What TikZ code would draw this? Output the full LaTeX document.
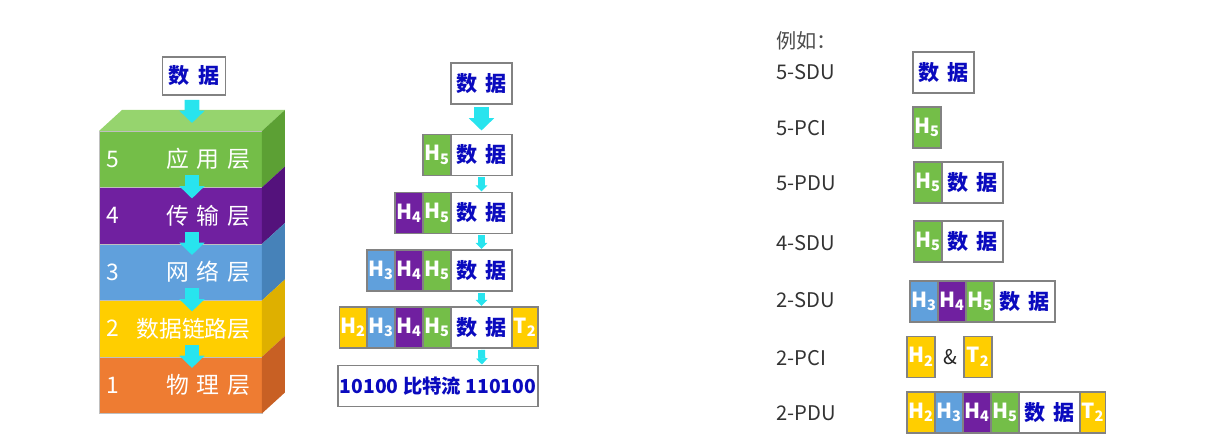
\documentclass[tikz,border=0pt]{standalone}
\usepackage{fontspec}
\setmainfont{Noto Sans CJK SC}
\usepackage{tikz}
\usetikzlibrary{positioning, calc, arrows.meta}
\definecolor{hgreen}{RGB}{116, 190, 72}
\definecolor{hpurple}{RGB}{112, 32, 160}
\definecolor{hblue}{RGB}{96, 160, 220}
\definecolor{hyellow}{RGB}{255, 206, 0}
\definecolor{horange}{RGB}{238, 124, 50}
\definecolor{topgreen}{RGB}{150, 212, 110}
\definecolor{sgreen}{RGB}{92, 160, 52}
\definecolor{spurple}{RGB}{84, 18, 124}
\definecolor{sblue}{RGB}{70, 130, 185}
\definecolor{syellow}{RGB}{222, 176, 0}
\definecolor{sorange}{RGB}{200, 96, 36}
\definecolor{dblue}{RGB}{10, 10, 190}
\definecolor{flow}{RGB}{40, 228, 238}
\definecolor{edge}{RGB}{130, 130, 130}
\newcommand{\shuju}{数\hspace{0.4em}据}
\newcommand{\gap}{\hspace{0.35em}}

\begin{document}
\begin{tikzpicture}[x=0.02cm, y=-0.02cm,
  cell/.style={draw=edge, line width=0.6pt, inner sep=0pt, outer sep=0pt, minimum height=0.82cm,
    font=\bfseries\fontsize{12}{14}\selectfont},
  hcell/.style={cell, minimum width=0.56cm, text=white, font=\bfseries\fontsize{11.8}{14}\selectfont},
  dcell/.style={cell, minimum width=1.22cm, fill=white, text=dblue},
  layer/.style={minimum width=3.26cm, minimum height=1.13cm, inner sep=0pt, outer sep=0pt,
    draw=white!75!black, line width=0.4pt},
  laytext/.style={text=white, inner sep=0pt, font=\fontsize{13}{15}\selectfont},
  lbl/.style={anchor=west, inner sep=0pt, text=black!80, font=\fontsize{11.5}{14}\selectfont},
  bigflow/.style={draw=flow, line width=8.5pt, -{Triangle[width=14pt, length=7pt]}},
  smallflow/.style={draw=flow, line width=4pt, -{Triangle[width=6.5pt, length=3.5pt]}}]

  \useasboundingbox (0,0) rectangle (1228,448);

  % Stack
  \node[dcell, minimum width=1.26cm, minimum height=0.76cm] (sd) at (194,76) {\shuju};

  \node[layer, fill=hgreen, anchor=north west] (L5) at (99,131) {};
  \node[layer, fill=hpurple, below=0pt of L5] (L4) {};
  \node[layer, fill=hblue, below=0pt of L4] (L3) {};
  \node[layer, fill=hyellow, below=0pt of L3] (L2) {};
  \node[layer, fill=horange, below=0pt of L2] (L1) {};

  \fill[topgreen] (L5.north west) -- ++(23,-21) -- ++(163,0) -- (L5.north east) -- cycle;
  \fill[sgreen] (L5.north east) -- ++(23,-21) -- ++(0,56.5) -- (L5.south east) -- cycle;
  \fill[spurple] (L4.north east) -- ++(23,-21) -- ++(0,56.5) -- (L4.south east) -- cycle;
  \fill[sblue] (L3.north east) -- ++(23,-21) -- ++(0,56.5) -- (L3.south east) -- cycle;
  \fill[syellow] (L2.north east) -- ++(23,-21) -- ++(0,56.5) -- (L2.south east) -- cycle;
  \fill[sorange] (L1.north east) -- ++(23,-21) -- ++(0,56.5) -- (L1.south east) -- cycle;

  \node[laytext] at ($(L5.west)+(14,0)$) {5};
  \node[laytext, anchor=east] at ($(L5.east)+(-11,0)$) {应\gap 用\gap 层};
  \node[laytext] at ($(L4.west)+(14,0)$) {4};
  \node[laytext, anchor=east] at ($(L4.east)+(-11,0)$) {传\gap 输\gap 层};
  \node[laytext] at ($(L3.west)+(14,0)$) {3};
  \node[laytext, anchor=east] at ($(L3.east)+(-11,0)$) {网\gap 络\gap 层};
  \node[laytext] at ($(L2.west)+(14,0)$) {2};
  \node[laytext, anchor=east] at ($(L2.east)+(-11,0)$) {数据链路层};
  \node[laytext] at ($(L1.west)+(14,0)$) {1};
  \node[laytext, anchor=east] at ($(L1.east)+(-11,0)$) {物\gap 理\gap 层};

  \draw[bigflow] ($(sd.south)+(-2,5)$) -- ($(L5.north)+(11.5,-8)$);
  \draw[bigflow] ($(L5.south)+(11.5,-12)$) -- ($(L4.north)+(11.5,11)$);
  \draw[bigflow] ($(L4.south)+(11.5,-12)$) -- ($(L3.north)+(11.5,11)$);
  \draw[bigflow] ($(L3.south)+(11.5,-12)$) -- ($(L2.north)+(11.5,11)$);
  \draw[bigflow] ($(L2.south)+(11.5,-12)$) -- ($(L1.north)+(11.5,11)$);

  % Encapsulation
  \node[dcell] (m0) at (481.5,83.5) {\shuju};

  \node[dcell] (m1) at (481.5,155) {\shuju};
  \node[hcell, fill=hgreen, left=0pt of m1] (m1h5) {H\textsubscript{5}};

  \node[dcell] (m2) at (481.5,213) {\shuju};
  \node[hcell, fill=hgreen, left=0pt of m2] (m2h5) {H\textsubscript{5}};
  \node[hcell, fill=hpurple, left=0pt of m2h5] (m2h4) {H\textsubscript{4}};

  \node[dcell] (m3) at (481.5,270.5) {\shuju};
  \node[hcell, fill=hgreen, left=0pt of m3] (m3h5) {H\textsubscript{5}};
  \node[hcell, fill=hpurple, left=0pt of m3h5] (m3h4) {H\textsubscript{4}};
  \node[hcell, fill=hblue, left=0pt of m3h4] (m3h3) {H\textsubscript{3}};

  \node[dcell] (m4) at (481.5,327.5) {\shuju};
  \node[hcell, fill=hgreen, left=0pt of m4] (m4h5) {H\textsubscript{5}};
  \node[hcell, fill=hpurple, left=0pt of m4h5] (m4h4) {H\textsubscript{4}};
  \node[hcell, fill=hblue, left=0pt of m4h4] (m4h3) {H\textsubscript{3}};
  \node[hcell, fill=hyellow, left=0pt of m4h3] (m4h2) {H\textsubscript{2}};
  \node[hcell, fill=hyellow, right=0pt of m4, minimum width=0.52cm] (m4t2) {T\textsubscript{2}};

  \node[cell, fill=white, text=dblue, minimum width=4cm, font=\bfseries\fontsize{11}{14}\selectfont]
    (bits) at (438,386) {10100 比特流 110100};

  \draw[bigflow] ($(m0.south)+(0,3)$) -- ($(m1.north)+(0,-4)$);
  \draw[smallflow] ($(m1.south)+(0,2)$) -- ($(m2.north)+(0,-1)$);
  \draw[smallflow] ($(m2.south)+(0,2)$) -- ($(m3.north)+(0,-1)$);
  \draw[smallflow] ($(m3.south)+(0,2)$) -- ($(m4.north)+(0,-1)$);
  \draw[smallflow] ($(m4.south)+(0,2)$) -- ($(bits.north)+(44,-1)$);

  % Examples
  \node[lbl, text=black!70] (eg) at (776,41) {例如：};

  \node[lbl] (sdu5) at (776,72) {5-SDU};
  \node[dcell, anchor=west] (e1) at (913,72.5) {\shuju};

  \node[lbl] (pci5) at (776,128) {5-PCI};
  \node[hcell, fill=hgreen, anchor=west] (e2) at (913,127.5) {H\textsubscript{5}};

  \node[lbl] (pdu5) at (776,183) {5-PDU};
  \node[hcell, fill=hgreen, anchor=west] (e3h5) at (914,182.5) {H\textsubscript{5}};
  \node[dcell, right=0pt of e3h5] (e3) {\shuju};

  \node[lbl] (sdu4) at (776,243) {4-SDU};
  \node[hcell, fill=hgreen, anchor=west] (e4h5) at (914,241.5) {H\textsubscript{5}};
  \node[dcell, right=0pt of e4h5] (e4) {\shuju};

  \node[lbl] (sdu2) at (776,300) {2-SDU};
  \node[hcell, fill=hblue, anchor=west] (e5h3) at (910,301.5) {H\textsubscript{3}};
  \node[hcell, fill=hpurple, right=0pt of e5h3] (e5h4) {H\textsubscript{4}};
  \node[hcell, fill=hgreen, right=0pt of e5h4] (e5h5) {H\textsubscript{5}};
  \node[dcell, right=0pt of e5h5] (e5) {\shuju};

  \node[lbl] (pci2) at (776,358) {2-PCI};
  \node[hcell, fill=hyellow, anchor=west] (e6h2) at (907,357) {H\textsubscript{2}};
  \node[lbl, text=black!85] (amp) at (943,357) {\&};
  \node[hcell, fill=hyellow, anchor=west] (e6t2) at (964,357) {T\textsubscript{2}};

  \node[lbl] (pdu2) at (776,413) {2-PDU};
  \node[hcell, fill=hyellow, anchor=west] (e7h2) at (907,412.5) {H\textsubscript{2}};
  \node[hcell, fill=hblue, right=0pt of e7h2] (e7h3) {H\textsubscript{3}};
  \node[hcell, fill=hpurple, right=0pt of e7h3] (e7h4) {H\textsubscript{4}};
  \node[hcell, fill=hgreen, right=0pt of e7h4] (e7h5) {H\textsubscript{5}};
  \node[dcell, right=0pt of e7h5] (e7) {\shuju};
  \node[hcell, fill=hyellow, right=0pt of e7, minimum width=0.52cm] (e7t2) {T\textsubscript{2}};

\end{tikzpicture}
\end{document}
